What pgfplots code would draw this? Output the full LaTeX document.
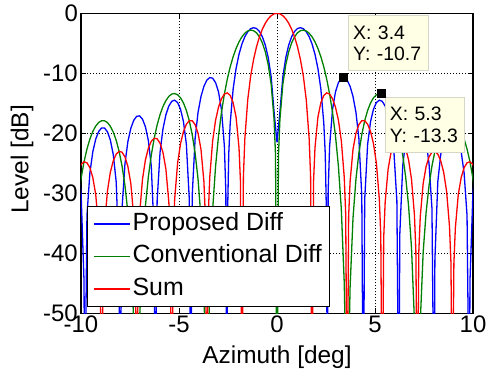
\documentclass[border=0pt]{standalone}
\usepackage{fontspec}
\setmainfont{Liberation Sans}
\usepackage{pgfplots}
\pgfplotsset{compat=1.18}
\usepackage{pgfplotstable}
\definecolor{mgreen}{rgb}{0,0.5,0}
\definecolor{tipfill}{RGB}{255,255,230}
\definecolor{tipdraw}{RGB}{215,215,200}

\pgfplotstableread{
x y
-10.143 -25.41
-9.994 -30.13
-9.845 -44.69
-9.812 -70
-9.696 -33.70
-9.547 -26.64
-9.398 -23.09
-9.248 -20.96
-9.099 -19.70
-8.950 -19.11
-8.801 -19.12
-8.652 -19.74
-8.503 -21.11
-8.353 -23.56
-8.204 -28.09
-8.055 -41.20
-8.015 -70
-7.906 -32.50
-7.757 -25.07
-7.608 -21.39
-7.458 -19.17
-7.309 -17.84
-7.160 -17.17
-7.011 -17.10
-6.862 -17.65
-6.713 -18.91
-6.563 -21.22
-6.414 -25.47
-6.265 -36.84
-6.213 -70
-6.116 -31.26
-5.967 -23.18
-5.818 -19.27
-5.668 -16.91
-5.519 -15.46
-5.370 -14.67
-5.221 -14.48
-5.072 -14.88
-4.923 -15.98
-4.773 -18.04
-4.624 -21.83
-4.475 -30.99
-4.402 -70
-4.326 -30.41
-4.177 -20.85
-4.028 -16.51
-3.878 -13.87
-3.729 -12.17
-3.580 -11.15
-3.431 -10.71
-3.282 -10.82
-3.133 -11.55
-2.983 -13.11
-2.834 -16.00
-2.685 -22.12
-2.610 -29.73
-2.560 -70
-2.536 -35.74
-2.461 -23.35
-2.387 -18.29
-2.238 -12.63
-2.088 -9.21
-1.939 -6.84
-1.790 -5.13
-1.641 -3.90
-1.492 -3.07
-1.343 -2.57
-1.193 -2.40
-1.044 -2.54
-0.895 -3.03
-0.746 -3.92
-0.597 -5.30
-0.448 -7.37
-0.298 -10.59
-0.149 -16.43
0 -21.5
0.149 -16.43
0.298 -10.59
0.448 -7.37
0.597 -5.30
0.746 -3.92
0.895 -3.03
1.044 -2.54
1.193 -2.40
1.343 -2.57
1.492 -3.07
1.641 -3.90
1.790 -5.13
1.939 -6.84
2.088 -9.21
2.238 -12.63
2.387 -18.29
2.461 -23.35
2.536 -35.74
2.560 -70
2.610 -29.73
2.685 -22.12
2.834 -16.00
2.983 -13.11
3.133 -11.55
3.282 -10.82
3.431 -10.71
3.580 -11.15
3.729 -12.17
3.878 -13.87
4.028 -16.51
4.177 -20.85
4.326 -30.41
4.402 -70
4.475 -30.99
4.624 -21.83
4.773 -18.04
4.923 -15.98
5.072 -14.88
5.221 -14.48
5.370 -14.67
5.519 -15.46
5.668 -16.91
5.818 -19.27
5.967 -23.18
6.116 -31.26
6.213 -70
6.265 -36.84
6.414 -25.47
6.563 -21.22
6.713 -18.91
6.862 -17.65
7.011 -17.10
7.160 -17.17
7.309 -17.84
7.458 -19.17
7.608 -21.39
7.757 -25.07
7.906 -32.50
8.015 -70
8.055 -41.20
8.204 -28.09
8.353 -23.56
8.503 -21.11
8.652 -19.74
8.801 -19.12
8.950 -19.11
9.099 -19.70
9.248 -20.96
9.398 -23.09
9.547 -26.64
9.696 -33.70
9.812 -70
9.845 -44.69
9.994 -30.13
10.143 -25.41
}\propdata

\pgfplotstableread{
x y
-10.143 -31.03
-9.994 -27.48
-9.845 -24.75
-9.696 -22.62
-9.547 -20.96
-9.398 -19.70
-9.248 -18.79
-9.099 -18.20
-8.950 -17.90
-8.801 -17.91
-8.652 -18.21
-8.503 -18.83
-8.353 -19.80
-8.204 -21.17
-8.055 -23.01
-7.906 -25.45
-7.757 -28.70
-7.608 -33.18
-7.458 -39.80
-7.309 -51.52
-7.160 -70
-7.011 -51.15
-6.862 -39.07
-6.713 -32.09
-6.563 -27.25
-6.414 -23.63
-6.265 -20.82
-6.116 -18.62
-5.967 -16.88
-5.818 -15.54
-5.668 -14.54
-5.519 -13.85
-5.370 -13.46
-5.221 -13.37
-5.072 -13.57
-4.923 -14.08
-4.773 -14.94
-4.624 -16.19
-4.475 -17.90
-4.326 -20.21
-4.177 -23.32
-4.028 -27.65
-3.878 -34.12
-3.729 -45.67
-3.580 -70
-3.431 -44.95
-3.282 -32.67
-3.133 -25.47
-2.983 -20.40
-2.834 -16.54
-2.685 -13.46
-2.536 -10.97
-2.387 -8.92
-2.238 -7.24
-2.088 -5.86
-1.939 -4.77
-1.790 -3.92
-1.641 -3.32
-1.492 -2.94
-1.343 -2.80
-1.193 -2.90
-1.044 -3.26
-0.895 -3.92
-0.746 -4.94
-0.597 -6.42
-0.448 -8.57
-0.298 -11.84
-0.149 -17.71
-0.075 -23.69
0 -70
0.075 -23.69
0.149 -17.71
0.298 -11.84
0.448 -8.57
0.597 -6.42
0.746 -4.94
0.895 -3.92
1.044 -3.26
1.193 -2.90
1.343 -2.80
1.492 -2.94
1.641 -3.32
1.790 -3.92
1.939 -4.77
2.088 -5.86
2.238 -7.24
2.387 -8.92
2.536 -10.97
2.685 -13.46
2.834 -16.54
2.983 -20.40
3.133 -25.47
3.282 -32.67
3.431 -44.95
3.580 -70
3.729 -45.67
3.878 -34.12
4.028 -27.65
4.177 -23.32
4.326 -20.21
4.475 -17.90
4.624 -16.19
4.773 -14.94
4.923 -14.08
5.072 -13.57
5.221 -13.37
5.370 -13.46
5.519 -13.85
5.668 -14.54
5.818 -15.54
5.967 -16.88
6.116 -18.62
6.265 -20.82
6.414 -23.63
6.563 -27.25
6.713 -32.09
6.862 -39.07
7.011 -51.15
7.160 -70
7.309 -51.52
7.458 -39.80
7.608 -33.18
7.757 -28.70
7.906 -25.45
8.055 -23.01
8.204 -21.17
8.353 -19.80
8.503 -18.83
8.652 -18.21
8.801 -17.91
8.950 -17.90
9.099 -18.20
9.248 -18.79
9.398 -19.70
9.547 -20.96
9.696 -22.62
9.845 -24.75
9.994 -27.48
10.143 -31.03
}\convdata

\pgfplotstableread{
x y
-10.143 -26.26
-9.994 -25.18
-9.845 -24.75
-9.696 -24.92
-9.547 -25.73
-9.398 -27.36
-9.248 -30.23
-9.099 -35.81
-9.025 -41.68
-8.950 -70
-8.875 -41.54
-8.801 -35.52
-8.652 -29.65
-8.503 -26.49
-8.353 -24.57
-8.204 -23.47
-8.055 -23.01
-7.906 -23.15
-7.757 -23.93
-7.608 -25.52
-7.458 -28.36
-7.309 -33.90
-7.235 -39.76
-7.160 -70
-7.085 -39.58
-7.011 -33.54
-6.862 -27.64
-6.713 -24.43
-6.563 -22.48
-6.414 -21.33
-6.265 -20.82
-6.116 -20.92
-5.967 -21.65
-5.818 -23.19
-5.668 -25.98
-5.519 -31.46
-5.445 -37.29
-5.370 -70
-5.295 -37.05
-5.221 -30.98
-5.072 -25.01
-4.923 -21.74
-4.773 -19.71
-4.624 -18.49
-4.475 -17.90
-4.326 -17.91
-4.177 -18.55
-4.028 -20.00
-3.878 -22.68
-3.729 -28.06
-3.655 -33.83
-3.580 -70
-3.505 -33.47
-3.431 -27.33
-3.282 -21.23
-3.133 -17.81
-2.983 -15.63
-2.834 -14.24
-2.685 -13.46
-2.536 -13.27
-2.387 -13.69
-2.238 -14.89
-2.088 -17.30
-1.939 -22.38
-1.865 -27.98
-1.790 -70
-1.715 -27.26
-1.641 -20.93
-1.492 -14.38
-1.343 -10.45
-1.193 -7.67
-1.044 -5.56
-0.895 -3.92
-0.746 -2.64
-0.597 -1.65
-0.448 -0.91
-0.298 -0.40
-0.149 -0.10
0 0
0.149 -0.10
0.298 -0.40
0.448 -0.91
0.597 -1.65
0.746 -2.64
0.895 -3.92
1.044 -5.56
1.193 -7.67
1.343 -10.45
1.492 -14.38
1.641 -20.93
1.715 -27.26
1.790 -70
1.865 -27.98
1.939 -22.38
2.088 -17.30
2.238 -14.89
2.387 -13.69
2.536 -13.27
2.685 -13.46
2.834 -14.24
2.983 -15.63
3.133 -17.81
3.282 -21.23
3.431 -27.33
3.505 -33.47
3.580 -70
3.655 -33.83
3.729 -28.06
3.878 -22.68
4.028 -20.00
4.177 -18.55
4.326 -17.91
4.475 -17.90
4.624 -18.49
4.773 -19.71
4.923 -21.74
5.072 -25.01
5.221 -30.98
5.295 -37.05
5.370 -70
5.445 -37.29
5.519 -31.46
5.668 -25.98
5.818 -23.19
5.967 -21.65
6.116 -20.92
6.265 -20.82
6.414 -21.33
6.563 -22.48
6.713 -24.43
6.862 -27.64
7.011 -33.54
7.085 -39.58
7.160 -70
7.235 -39.76
7.309 -33.90
7.458 -28.36
7.608 -25.52
7.757 -23.93
7.906 -23.15
8.055 -23.01
8.204 -23.47
8.353 -24.57
8.503 -26.49
8.652 -29.65
8.801 -35.52
8.875 -41.54
8.950 -70
9.025 -41.68
9.099 -35.81
9.248 -30.23
9.398 -27.36
9.547 -25.73
9.696 -24.92
9.845 -24.75
9.994 -25.18
10.143 -26.26
}\sumdata

\pgfplotstableread{
x y
3.4 -10.7
5.3 -13.3
}\tipdata

\begin{document}
\begin{tikzpicture}
\path[use as bounding box] (-81bp,-61.7bp) rectangle (406bp,313.3bp);
\begin{axis}[
  at={(0,0)}, anchor=south west,
  scale only axis, width=392bp, height=300bp,
  xmin=-10, xmax=10, ymin=-50, ymax=0,
  xtick={-10,-5,0,5,10}, xticklabels={-10,-5,0,5,10},
  ytick={-50,-40,-30,-20,-10,0}, yticklabels={-50,-40,-30,-20,-10,0},
  grid=major,
  grid style={black, line width=0.6bp, dash pattern=on 1bp off 2bp},
  axis line style={black, line width=1.2bp},
  tick style={black, line width=0.8bp},
  tick align=inside, major tick length=5bp,
  xticklabel style={font=\fontsize{24}{24}\selectfont, inner sep=0pt, yshift=-2.5bp},
  yticklabel style={font=\fontsize{24}{24}\selectfont, inner sep=0pt, xshift=-3bp},
  xlabel={Azimuth [deg]}, ylabel={Level [dB]},
  xlabel style={font=\fontsize{24.5}{25}\selectfont, at={(axis description cs:0.5,0)}, anchor=base, yshift=-50bp},
  ylabel style={font=\fontsize{24.5}{25}\selectfont, at={(axis description cs:-0.1505,0.513)}, anchor=center},
  legend cell align=left,
  legend style={at={(axis description cs:0.0145,0.02)}, anchor=south west,
    draw=black, line width=1.2bp, fill=white,
    font=\fontsize{25}{25}\selectfont,
    inner xsep=6.5bp, inner ysep=4.5bp, row sep=6bp,
    nodes={inner sep=1.5bp, text depth=5.5bp, text height=18bp}},
  legend image code/.code={\draw[#1, line width=1.3bp] (0bp,0bp) -- (36bp,0bp);},
]
\addplot[blue, line width=1.3bp] table[x=x, y=y] {\propdata};
\addlegendentry{Proposed Diff}
\addplot[mgreen, line width=1.3bp] table[x=x, y=y] {\convdata};
\addlegendentry{Conventional Diff}
\addplot[red, line width=1.3bp] table[x=x, y=y] {\sumdata};
\addlegendentry{Sum}
\addplot[only marks, mark=square*, mark size=4bp, black, forget plot] table[x=x, y=y] {\tipdata};
\node[draw=tipdraw, fill=tipfill, line width=0.8bp, anchor=north west, align=left,
  inner xsep=4.8bp, inner ysep=10bp, text width=70bp,
  font=\fontsize{19.5}{21.7}\selectfont] at (axis cs:3.62,-0.3) {X: 3.4\\Y: -10.7};
\node[draw=tipdraw, fill=tipfill, line width=0.8bp, anchor=north west, align=left,
  inner xsep=4.8bp, inner ysep=10bp, text width=70bp,
  font=\fontsize{19.5}{21.7}\selectfont] at (axis cs:5.49,-13.95) {X: 5.3\\Y: -13.3};
\end{axis}
\end{tikzpicture}
\end{document}
